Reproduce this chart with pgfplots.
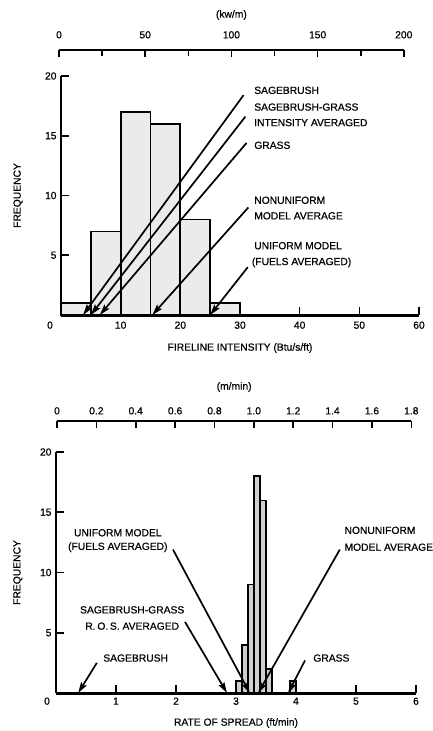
\documentclass[border=0pt]{standalone}
\usepackage{pgfplots}
\pgfplotsset{compat=1.18}
\usepackage{fontspec}
\setmainfont{Liberation Sans}[FakeBold=0.6]
\usetikzlibrary{arrows.meta}
\begin{document}
\begin{tikzpicture}[font=\fontsize{10.3}{12}\selectfont,
  arr/.style={line width=1.7pt,-{Stealth[length=11pt,width=6.5pt,inset=2pt]}}]
\useasboundingbox (-61pt,-416pt) rectangle (371pt,315pt);
% ---------------- TOP CHART ----------------
\begin{axis}[name=main1, at={(0,0)}, anchor=south west,
  scale only axis, width=358pt, height=239pt,
  xmin=0, xmax=60, ymin=0, ymax=20, clip=false,
  axis x line=bottom, axis y line=left,
  x axis line style={-, line width=3pt},
  y axis line style={-, line width=2pt},
  xtick={10,20,30,40,50,60}, ytick={5,10,15,20},
  extra x ticks={0}, extra x tick style={major tick length=0pt, xticklabel style={xshift=-11pt}},
  tick align=inside, major tick length=8pt,
  tick style={line width=1.6pt, black},
  /pgf/number format/assume math mode=true,
  xticklabel style={yshift=-3pt},
  yticklabel style={xshift=-1pt},
  xlabel={FIRELINE INTENSITY (Btu/s/ft)},
  xlabel style={at={(axis description cs:0.5,0)}, anchor=center, yshift=-33pt},
  ylabel={FREQUENCY},
  ylabel style={at={(axis description cs:-0.12,0.5)}, anchor=center},
]
\addplot[ybar interval, fill=gray!16, draw=black, line width=1.7pt]
  coordinates {(0,1) (5,7) (10,17) (15,16) (20,8) (25,1) (30,1)};
\draw[arr] (axis cs:30.6,18.4) -- (axis cs:3.7,0);
\draw[arr] (axis cs:30.9,16.6) -- (axis cs:5.0,0);
\draw[arr] (axis cs:31.1,14.4) -- (axis cs:6.5,0);
\draw[arr] (axis cs:31.4,9.0) -- (axis cs:15.3,0);
\draw[arr] (axis cs:31.3,4.0) -- (axis cs:25.0,0);
\node[anchor=west] at (axis cs:31.8,18.8) {SAGEBRUSH};
\node[anchor=west] at (axis cs:31.8,17.4) {SAGEBRUSH-GRASS};
\node[anchor=west] at (axis cs:31.8,16.1) {INTENSITY AVERAGED};
\node[anchor=west] at (axis cs:31.8,14.2) {GRASS};
\node[anchor=west] at (axis cs:31.8,9.6) {NONUNIFORM};
\node[anchor=west] at (axis cs:31.8,8.3) {MODEL AVERAGE};
\node[anchor=west] at (axis cs:31.8,5.8) {UNIFORM MODEL};
\node[anchor=west] at (axis cs:31.4,4.4) {(FUELS AVERAGED)};
\end{axis}
\begin{axis}[at={(-2pt,265pt)}, anchor=north west,
  scale only axis, width=344.8pt, height=10pt,
  xmin=0, xmax=200, ymin=0, ymax=1,
  axis x line=top, axis y line=none,
  x axis line style={-, line width=2pt},
  xtick={0,50,100,150,200}, minor xtick={25,75,125,175},
  tick align=inside, major tick length=7pt, minor tick length=6pt,
  tick style={line width=1.6pt, black},
  /pgf/number format/assume math mode=true,
  xticklabel style={yshift=8pt},
  xlabel={(kw/m)},
  xlabel style={at={(axis description cs:0.5,1)}, anchor=center, yshift=35pt},
]
\addplot[draw=none] coordinates {(0,0)};
\end{axis}
% ---------------- BOTTOM CHART ----------------
\begin{scope}[shift={(-5pt,-378pt)}]
\begin{axis}[name=main2, at={(0,0)}, anchor=south west,
  scale only axis, width=360pt, height=241pt,
  xmin=0, xmax=6, ymin=0, ymax=20, clip=false,
  axis x line=bottom, axis y line=left,
  x axis line style={-, line width=3pt},
  y axis line style={-, line width=2pt},
  xtick={1,2,3,4,5,6}, ytick={5,10,15,20},
  extra x ticks={0}, extra x tick style={major tick length=0pt, xticklabel style={xshift=-9pt}},
  tick align=inside, major tick length=8pt,
  tick style={line width=1.6pt, black},
  /pgf/number format/assume math mode=true,
  xticklabel style={yshift=-1pt},
  yticklabel style={xshift=-1pt},
  xlabel={RATE OF SPREAD (ft/min)},
  xlabel style={at={(axis description cs:0.5,0)}, anchor=center, yshift=-30pt},
  ylabel={FREQUENCY},
  ylabel style={at={(axis description cs:-0.106,0.5)}, anchor=center},
]
\addplot[ybar interval, fill=gray!38, draw=black, line width=1.4pt]
  coordinates {(3.0,1) (3.1,4) (3.2,9) (3.3,18) (3.4,16) (3.5,2) (3.6,2)};
\addplot[ybar interval, fill=gray!38, draw=black, line width=1.4pt]
  coordinates {(3.9,1) (4.0,1)};
\draw[arr] (axis cs:0.68,2.5) -- (axis cs:0.37,0);
\draw[arr] (axis cs:2.15,5.9) -- (axis cs:2.85,0);
\draw[arr] (axis cs:1.95,11.9) -- (axis cs:3.23,0);
\draw[arr] (axis cs:4.73,11.9) -- (axis cs:3.37,0);
\draw[arr] (axis cs:4.15,2.7) -- (axis cs:3.87,0);
\node[anchor=west] at (axis cs:0.73,2.9) {SAGEBRUSH};
\node[anchor=center] at (axis cs:1.27,6.9) {SAGEBRUSH-GRASS};
\node[anchor=center] at (axis cs:1.27,5.55) {R.\,O.\,S. AVERAGED};
\node[anchor=center] at (axis cs:1.03,13.3) {UNIFORM MODEL};
\node[anchor=center] at (axis cs:1.03,12.1) {(FUELS AVERAGED)};
\node[anchor=west] at (axis cs:4.75,13.5) {NONUNIFORM};
\node[anchor=west] at (axis cs:4.75,12.1) {MODEL AVERAGE};
\node[anchor=west] at (axis cs:4.23,2.9) {GRASS};
\end{axis}
\begin{axis}[at={(1pt,272pt)}, anchor=north west,
  scale only axis, width=354.3pt, height=10pt,
  xmin=0, xmax=1.8, ymin=0, ymax=1,
  axis x line=top, axis y line=none,
  x axis line style={-, line width=2pt},
  xtick={0,0.2,0.4,0.6,0.8,1.0,1.2,1.4,1.6,1.8},
  xticklabels={0,0.2,0.4,0.6,0.8,1.0,1.2,1.4,1.6,1.8},
  tick align=inside, major tick length=7pt,
  tick style={line width=1.6pt, black},
  xticklabel style={yshift=3pt},
  xlabel={(m/min)},
  xlabel style={at={(axis description cs:0.5,1)}, anchor=center, yshift=34pt},
]
\addplot[draw=none] coordinates {(0,0)};
\end{axis}
\end{scope}
\end{tikzpicture}
\end{document}
